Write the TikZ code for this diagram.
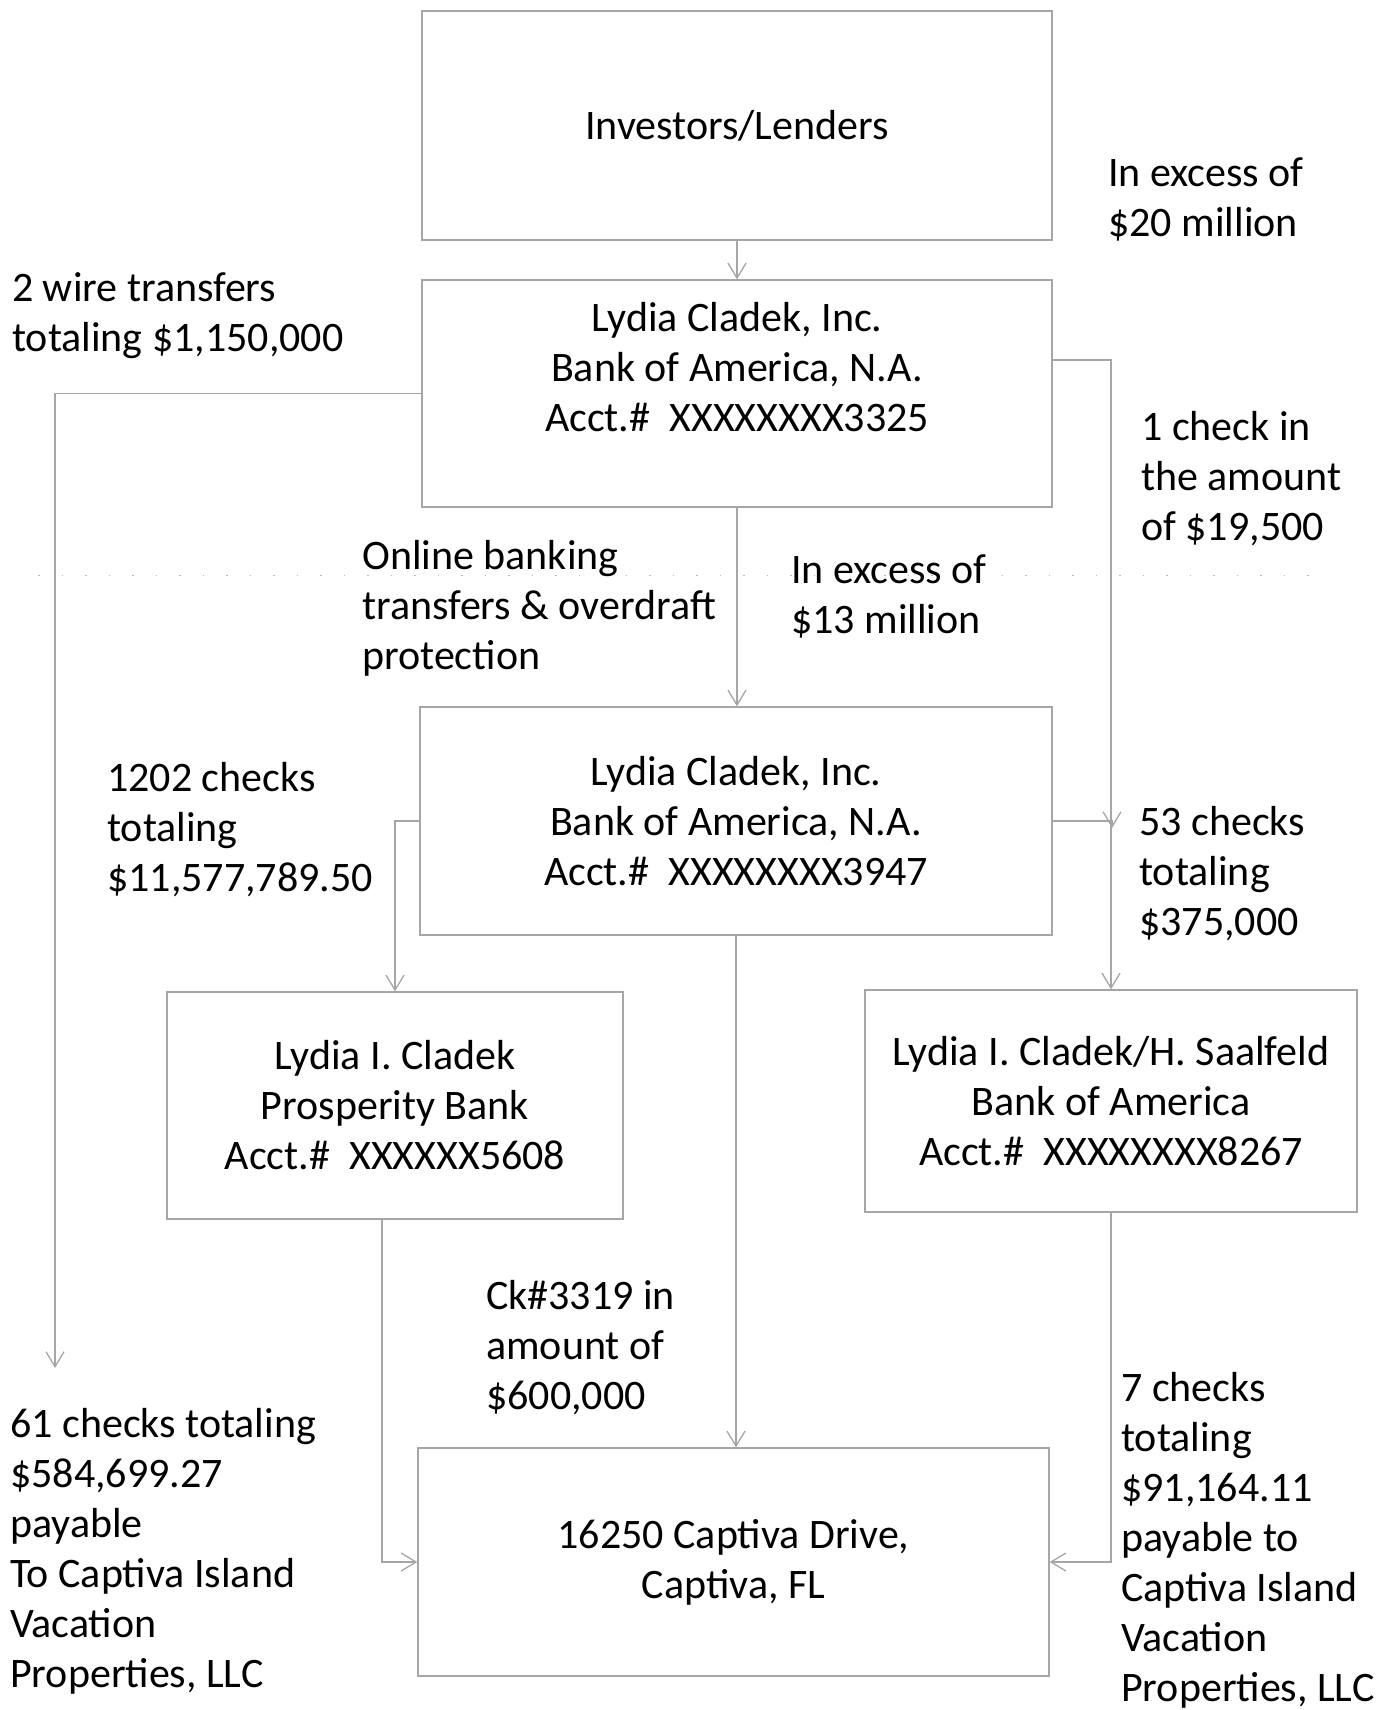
\documentclass[tikz,border=0pt]{standalone}
\usepackage{fontspec}
\setmainfont{Carlito}
\usetikzlibrary{arrows.meta}
\begin{document}
\begin{tikzpicture}[x=1pt,y=-1pt,
  box/.style={draw=gray!70, line width=1.3pt, rectangle, inner sep=0pt, align=center, text=black, font=\fontsize{42}{50}\selectfont},
  txt/.style={inner sep=0pt, align=center, font=\fontsize{42}{50}\selectfont},
  lbl/.style={anchor=north west, inner sep=0pt, align=left, font=\fontsize{42}{50}\selectfont},
  arr/.style={draw=gray!70, line width=1.3pt, -{Straight Barb[length=15pt,width=18pt]}},
  ]
\fill[white] (0,0) rectangle (1388,1710);
\useasboundingbox (0,0) rectangle (1388,1710);

% faint dotted rule
\coordinate (dl) at (38,575);
\coordinate (dr) at (1330,575);
\draw[gray!55, line width=1pt, dash pattern=on 1.5pt off 22pt] (dl) -- (dr);

% boxes
\node[box, minimum width=630pt, minimum height=229pt] (b1) at (737,125.5) {Investors/Lenders};
\node[box, minimum width=630pt, minimum height=227pt] (b2) at (737,393.5) {};
\node[txt] (t2) at (737,367) {Lydia Cladek, Inc.\\Bank of America, N.A.\\Acct.\#\ \ XXXXXXXX3325};
\node[box, minimum width=632pt, minimum height=228pt] (b3) at (736,821) {Lydia Cladek, Inc.\\Bank of America, N.A.\\Acct.\#\ \ XXXXXXXX3947};
\node[box, minimum width=456pt, minimum height=227pt] (b4) at (395,1105.5) {Lydia I. Cladek\\Prosperity Bank\\Acct.\#\ \ XXXXXX5608};
\node[box, minimum width=492pt, minimum height=222pt] (b5) at (1111,1101) {Lydia I. Cladek/H. Saalfeld\\Bank of America\\Acct.\#\ \ XXXXXXXX8267};
\node[box, minimum width=631pt, minimum height=228pt] (b6) at (733.5,1562) {16250 Captiva Drive,\\Captiva, FL};

% labels
\node[lbl] (lex20) at (1108,151) {\strut In excess of\\\$20 million};
\node[lbl] (lwire) at (12,266) {\strut 2 wire transfers\\totaling \$1,150,000};
\node[lbl] (lchk1) at (1141,405) {\strut 1 check in\\the amount\\of \$19,500};
\node[lbl] (lonl) at (362,534) {\strut Online banking\\transfers \& overdraft\\protection};
\node[lbl] (lex13) at (791,548) {\strut In excess of\\\$13 million};
\node[lbl] (l1202) at (107,756) {\strut 1202 checks\\totaling\\\$11,577,789.50};
\node[lbl] (l53) at (1139,800) {\strut 53 checks\\totaling\\\$375,000};
\node[lbl] (lck) at (486,1274) {\strut Ck\#3319 in\\amount of\\\$600,000};
\node[lbl] (l61) at (10,1402) {\strut 61 checks totaling\\\$584,699.27\\payable\\To Captiva Island\\Vacation\\Properties, LLC};
\node[lbl] (l7) at (1121,1366) {\strut 7 checks\\totaling\\\$91,164.11\\payable to\\Captiva Island\\Vacation\\Properties, LLC};

% connectors
\coordinate (wireend) at (55,1368);
\coordinate (c53end) at (1112,828);
\draw[arr] (b1.south) -- (b2.north);
\draw[arr] (b2.west) -| (wireend);
\draw[arr] ([yshift=33.5pt]b2.east) -| (b5.north);
\draw[arr] (b2.south) -- (b2.south |- b3.north);
\draw[arr] (b3.west) -| (b4.north);
\draw[arr] (b3.east) -| (c53end);
\draw[arr] (b3.south) -- (b3.south |- b6.north);
\draw[arr] ([xshift=-13pt]b4.south) |- (b6.west);
\draw[arr] (b5.south) |- (b6.east);
\end{tikzpicture}
\end{document}
